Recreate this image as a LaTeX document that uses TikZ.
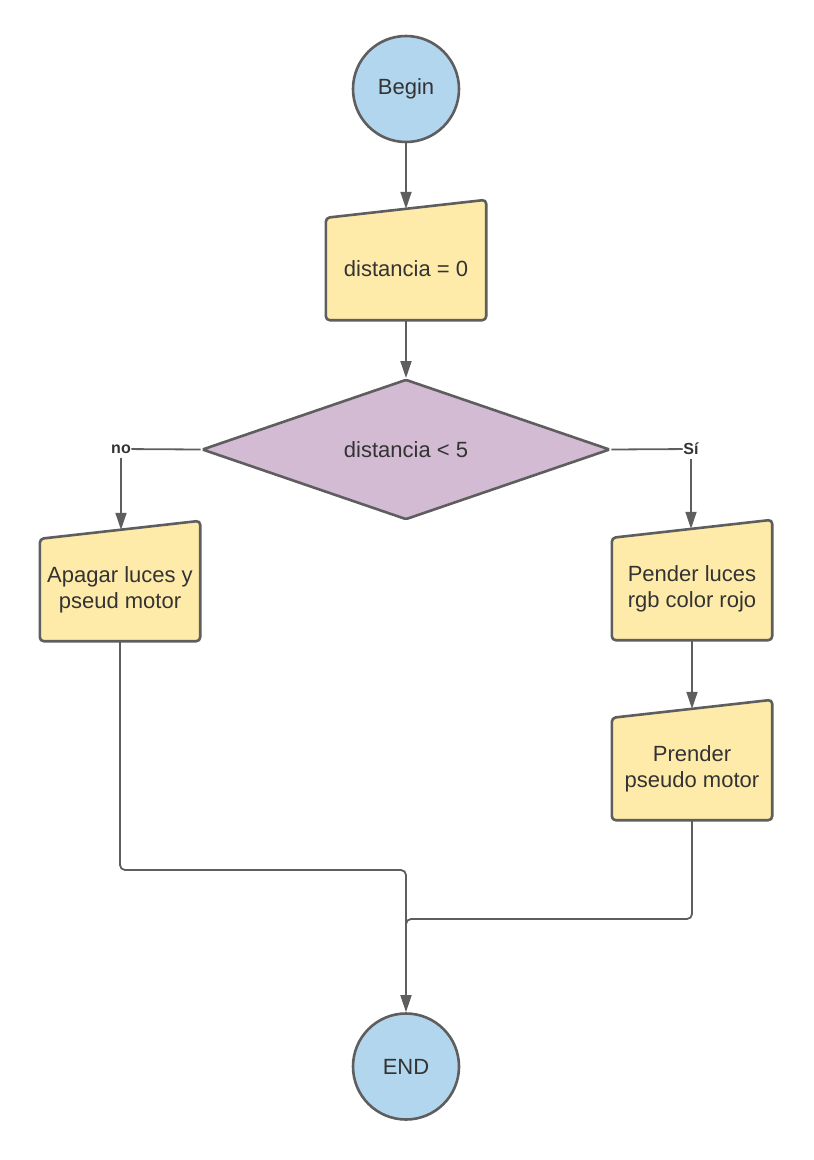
\documentclass[tikz,border=0pt]{standalone}
\usepackage{fontspec}
\setmainfont{Liberation Sans}
\usetikzlibrary{arrows.meta, shapes.geometric, backgrounds}

\definecolor{edge}{HTML}{5E5E5E}
\definecolor{termfill}{HTML}{B3D6EF}
\definecolor{iofill}{HTML}{FFEBA9}
\definecolor{decfill}{HTML}{D2BBD3}
\definecolor{ink}{HTML}{333333}

\begin{document}
\begin{tikzpicture}[
    x = 1pt, y = -1pt,
    >= {Triangle[width=11pt, length=17pt]},
    every node/.style = {text = ink, font = \fontsize{22}{26}\selectfont},
    term/.style = {circle, draw = edge, fill = termfill, line width = 2.6pt, minimum size = 106pt, inner sep = 0},
    io/.style = {minimum width = 160pt, minimum height = 102pt, align = center, inner sep = 0},
    iobox/.style = {draw = edge, fill = iofill, line width = 2.6pt, rounded corners = 4pt},
    dec/.style = {diamond, draw = edge, fill = decfill, line width = 2.6pt, minimum width = 408pt, minimum height = 136pt, inner sep = 0, rounded corners = 1.5pt},
    conn/.style = {draw = edge, line width = 1.8pt, rounded corners = 5pt},
    branch/.style = {font = \bfseries\fontsize{16}{18}\selectfont, inner xsep = 0.5pt, inner ysep = 4pt}]

\useasboundingbox (0, 0) rectangle (814, 1160);

\node[term] (start) at (406, 89) {Begin};
\node[io] (init) at (406, 269) {distancia = 0};
\node[dec] (check) at (406, 449.5) {distancia < 5};

\node[branch] (no) at (121, 449) {no};
\node[branch] (si) at (691, 449) {Sí};

\node[io] (off) at (120, 590) {Apagar luces y\\pseud motor};
\node[io] (light) at (692, 589) {Pender luces\\rgb color rojo};
\node[io] (motor) at (692, 769) {Prender\\pseudo motor};

\node[term] (stop) at (406, 1066.5) {END};

% the slanted input boxes
\begin{pgfonlayer}{background}
\foreach \n in {init, off, light, motor}
    \path[iobox] (\n.south west) -- (\n.north west) -- ([yshift = 18pt]\n.north east) -- (\n.south east) -- cycle;
\end{pgfonlayer}

\coordinate (lcorner) at (406, 870);
\coordinate (merge) at (406, 919);

% connectors
\draw[conn, ->] (start) -- ([yshift = 9pt]init.north);
\draw[conn, ->] (init.south) -- (check.north);
\draw[conn] (check.west) -- (no);
\draw[conn, ->] (no) -- ([yshift = 9pt]no |- off.north);
\draw[conn] (check.east) -- (si);
\draw[conn, ->] (si) -- ([yshift = 9pt]si |- light.north);
\draw[conn, ->] (light.south) -- ([yshift = 9pt]motor.north);

\draw[conn, ->] (off.south) |- (lcorner) -- (stop.north);
\draw[conn] (motor.south) |- (merge) -- ([yshift = -8pt]merge);

\end{tikzpicture}
\end{document}
